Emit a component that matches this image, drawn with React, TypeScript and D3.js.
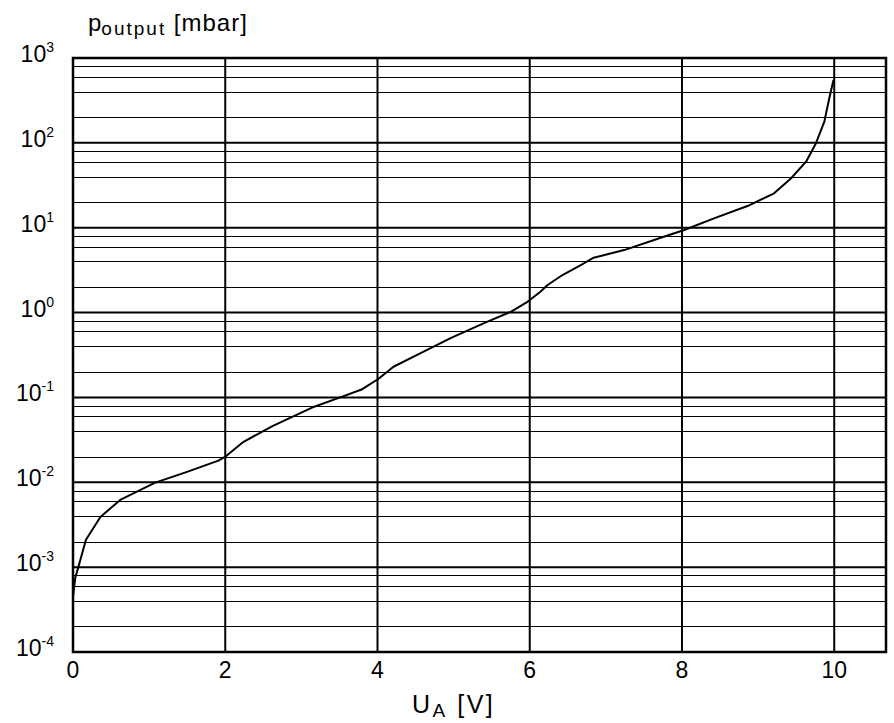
import React from "react";
import * as d3 from "d3";

// U_A [V] -> p_output [mbar]
const uValues = [
  0.0, 0.03, 0.07, 0.17, 0.36, 0.62, 1.08, 1.47, 1.91, 2.0, 2.24, 2.62, 3.14, 3.51, 3.8, 4.01,
  4.21, 4.56, 4.96, 5.4, 5.75, 5.97, 6.14, 6.23, 6.43, 6.67, 6.84, 7.24, 7.76, 8.03, 8.42, 8.86,
  9.21, 9.43, 9.63, 9.76, 9.87, 9.93, 9.99,
];
const pValues = [
  4.5e-4, 7.5e-4, 1.0e-3, 2.1e-3, 3.9e-3, 6.2e-3, 9.9e-3, 1.3e-2, 1.8e-2, 2.0e-2, 3.0e-2, 4.6e-2,
  7.6e-2, 0.1, 0.125, 0.165, 0.23, 0.33, 0.5, 0.75, 1.02, 1.34, 1.76, 2.1, 2.77, 3.63, 4.43,
  5.45, 7.84, 9.4, 12.9, 18, 25.4, 38, 60, 99, 178, 320, 550,
];

const xTicks = [0, 2, 4, 6, 8, 10];
const yExponents = [-4, -3, -2, -1, 0, 1, 2, 3];
const minorSteps = [2, 4, 6, 8];

const W = 894;
const H = 723;
const left = 73;
const right = 886;
const top = 58;
const bottom = 652;
const font = "'Liberation Sans', Arial, sans-serif";

export default function App() {
  const x = d3.scaleLinear().domain([0, 10.68]).range([left, right]);
  const y = d3.scaleLog().domain([1e-4, 1e3]).range([bottom, top]);

  const minorValues: number[] = [];
  yExponents.slice(0, -1).forEach((e) => {
    minorSteps.forEach((m) => minorValues.push(m * Math.pow(10, e)));
  });

  const pts: [number, number][] = uValues.map((u, i) => [u, pValues[i]]);
  const line = d3
    .line<[number, number]>()
    .x((d) => x(d[0]))
    .y((d) => y(d[1]));

  return (
    <svg
      width={W}
      height={H}
      style={{ position: "absolute", left: 0, top: 0, background: "#fff" }}
      fontFamily={font}
    >
      {/* minor grid */}
      {minorValues.map((v, i) => (
        <line
          key={"mn" + i}
          x1={left}
          x2={right}
          y1={Math.round(y(v)) + 0.5}
          y2={Math.round(y(v)) + 0.5}
          stroke="#000"
          strokeWidth={1}
        />
      ))}
      {/* major grid */}
      {yExponents.map((e) => (
        <line
          key={"mj" + e}
          x1={left}
          x2={right}
          y1={y(Math.pow(10, e))}
          y2={y(Math.pow(10, e))}
          stroke="#000"
          strokeWidth={2}
        />
      ))}
      {xTicks.map((t) => (
        <line key={"v" + t} x1={x(t)} x2={x(t)} y1={top} y2={bottom} stroke="#000" strokeWidth={2} />
      ))}
      <rect x={left} y={top} width={right - left} height={bottom - top} fill="none" stroke="#000" strokeWidth={2.5} />

      <path d={line(pts) || ""} fill="none" stroke="#000" strokeWidth={2} strokeLinejoin="round" />

      {/* y tick labels */}
      {yExponents.map((e) => (
        <text key={"yl" + e} x={54} y={y(Math.pow(10, e)) + 4} textAnchor="end" fontSize={23} fill="#000">
          10
          <tspan fontSize={14} dy={-10}>
            {e}
          </tspan>
        </text>
      ))}

      {/* x tick labels */}
      {xTicks.map((t) => (
        <text key={"xl" + t} x={x(t)} y={678} textAnchor="middle" fontSize={23} fill="#000">
          {t}
        </text>
      ))}

      {/* axis titles */}
      <text x={88} y={31} fontSize={24} fill="#000">
        p
        <tspan fontSize={19} dy={4} letterSpacing={2}>
          output
        </tspan>
        <tspan dy={-4} letterSpacing={1}> [mbar]</tspan>
      </text>
      <text x={(x(0) + x(10)) / 2} y={713} textAnchor="middle" fontSize={25} fill="#000" letterSpacing={2.5}>
        U
        <tspan fontSize={19} dy={4}>
          A
        </tspan>
        <tspan dy={-4}> [V]</tspan>
      </text>
    </svg>
  );
}
